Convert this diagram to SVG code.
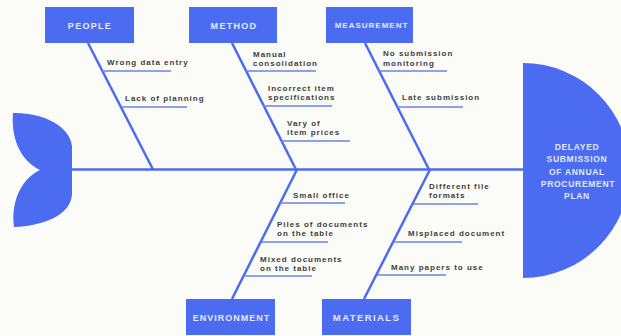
<svg xmlns="http://www.w3.org/2000/svg" width="621" height="336" viewBox="0 0 621 336">
<style>
.bg{fill:#fbfbf8}
.box{fill:#4b6cf0}
.bone{stroke:#4b6cf0;stroke-width:2.5;fill:none;stroke-linecap:butt}
.sub{stroke:#6b83e2;stroke-width:1.5;fill:none}
.bt{font-family:"Liberation Sans",Arial,sans-serif;font-weight:bold;font-size:9px;letter-spacing:1.3px;fill:#e4e9fb;text-anchor:middle}
.lb{font-family:"Liberation Sans",Arial,sans-serif;font-weight:bold;font-size:8px;letter-spacing:1px;fill:#404040}
.ht{font-family:"Liberation Sans",Arial,sans-serif;font-weight:bold;font-size:8.5px;letter-spacing:0.7px;fill:#e2e8fb;text-anchor:middle}
</style>
<rect class="bg" x="0" y="0" width="621" height="336"/>
<g id="connectors">
<line class="bone" x1="72" y1="169.5" x2="524" y2="169.5"/>
<line class="bone" x1="88" y1="43" x2="153" y2="169.5"/>
<line class="bone" x1="232" y1="43" x2="296" y2="169.5"/>
<line class="bone" x1="365" y1="43" x2="429" y2="169.5"/>
<line class="bone" x1="297" y1="169.5" x2="232" y2="299"/>
<line class="bone" x1="430" y1="169.5" x2="364" y2="299"/>
<line class="sub" x1="102" y1="71" x2="171" y2="71"/>
<line class="sub" x1="121" y1="107" x2="187" y2="107"/>
<line class="sub" x1="246" y1="71" x2="316" y2="71"/>
<line class="sub" x1="263" y1="106" x2="332" y2="106"/>
<line class="sub" x1="281" y1="141" x2="350" y2="141"/>
<line class="sub" x1="379" y1="71" x2="447" y2="71"/>
<line class="sub" x1="397" y1="107" x2="463" y2="107"/>
<line class="sub" x1="280" y1="203" x2="345" y2="203"/>
<line class="sub" x1="261" y1="242" x2="328" y2="242"/>
<line class="sub" x1="244" y1="276" x2="312" y2="276"/>
<line class="sub" x1="413" y1="204" x2="478" y2="204"/>
<line class="sub" x1="394" y1="242" x2="462" y2="242"/>
<line class="sub" x1="377" y1="275" x2="446" y2="275"/>
</g>
<g id="tail">
<path class="box" d="M13,113 C42,112 70,126 72,146 L72,195 C70,216 42,226 14,227 C11,205 19,180 40,170 C19,160 11,136 13,113 Z"/>
</g>
<g id="head">
<path class="box" d="M523,63 A107,107.5 0 0 1 523,278 Z"/>
<text class="ht" x="577" y="150">DELAYED</text>
<text class="ht" x="577" y="162">SUBMISSION</text>
<text class="ht" x="577" y="174.5">OF ANNUAL</text>
<text class="ht" x="578" y="186.5">PROCUREMENT</text>
<text class="ht" x="577" y="199">PLAN</text>
</g>
<g id="people">
<rect class="box" x="45" y="7" width="89" height="36"/>
<text class="bt" x="90" y="28.5">PEOPLE</text>
<text class="lb" x="107" y="65">Wrong data entry</text>
<text class="lb" x="125" y="101">Lack of planning</text>
</g>
<g id="method">
<rect class="box" x="189" y="7" width="88" height="36"/>
<text class="bt" x="234" y="28.5">METHOD</text>
<text class="lb" x="253" y="57">Manual</text>
<text class="lb" x="253" y="66">consolidation</text>
<text class="lb" x="268" y="91">Incorrect item</text>
<text class="lb" x="268" y="100">specifications</text>
<text class="lb" x="287" y="126">Vary of</text>
<text class="lb" x="287" y="135">item prices</text>
</g>
<g id="measurement">
<rect class="box" x="326" y="7" width="87" height="36"/>
<text class="bt" x="371.5" y="28" style="font-size:8px;letter-spacing:1px">MEASUREMENT</text>
<text class="lb" x="383" y="56">No submission</text>
<text class="lb" x="383" y="66">monitoring</text>
<text class="lb" x="402" y="100">Late submission</text>
</g>
<g id="environment">
<rect class="box" x="186" y="299" width="89" height="36"/>
<text class="bt" x="231.5" y="320.5" style="letter-spacing:1px">ENVIRONMENT</text>
<text class="lb" x="293" y="198">Small office</text>
<text class="lb" x="277" y="227">Piles of documents</text>
<text class="lb" x="277" y="236">on the table</text>
<text class="lb" x="260" y="262">Mixed documents</text>
<text class="lb" x="260" y="271">on the table</text>
</g>
<g id="materials">
<rect class="box" x="322" y="299" width="89" height="36"/>
<text class="bt" x="366.5" y="320.5" style="font-size:9.5px;letter-spacing:1.4px">MATERIALS</text>
<text class="lb" x="429" y="189">Different file</text>
<text class="lb" x="429" y="198">formats</text>
<text class="lb" x="408" y="236">Misplaced document</text>
<text class="lb" x="391" y="270">Many papers to use</text>
</g>
</svg>
